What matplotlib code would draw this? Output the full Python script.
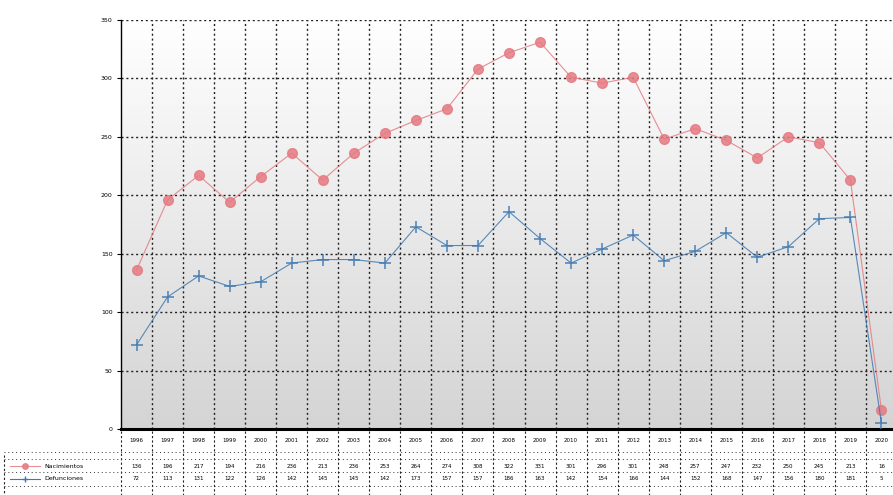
import numpy as np
import matplotlib
matplotlib.use("Agg")
import matplotlib.pyplot as plt
from matplotlib.lines import Line2D
import matplotlib.transforms as mtransforms

# data
years = [str(y) for y in range(1996, 2021)]
nacimientos = [136, 196, 217, 194, 216, 236, 213, 236, 253, 264, 274, 308, 322,
               331, 301, 296, 301, 248, 257, 247, 232, 250, 245, 213, 16]
defunciones = [72, 113, 131, 122, 126, 142, 145, 145, 142, 173, 157, 157, 186,
               163, 142, 154, 166, 144, 152, 168, 147, 156, 180, 181, 5]
yticks = [0, 50, 100, 150, 200, 250, 300, 350]

RED = "#e57a82"
BLUE = "#3f78b0"

W, H = 893, 495
fig = plt.figure(figsize=(W / 100, H / 100), dpi=100)
fig.patch.set_facecolor("white")

left, right, top, bottom = 121, 897, 20, 429
ax = fig.add_axes([left / W, 1 - bottom / H, (right - left) / W, (bottom - top) / H])
x = np.arange(len(years))
ax.set_xlim(-0.5, len(years) - 0.5)
ax.set_ylim(0, 350)

# gradient background
grad = np.linspace(0, 1, 256).reshape(-1, 1)
ax.imshow(grad, extent=[-0.5, len(years) - 0.5, 0, 350], aspect="auto",
          cmap=matplotlib.colors.LinearSegmentedColormap.from_list("g", ["#d4d4d4", "#ffffff"]),
          origin="lower", zorder=0)

# grid
for yv in yticks[1:]:
    ax.axhline(yv, color="#222222", lw=1.0, ls=(0, (1.5, 2)), zorder=1)
for b in np.arange(0.5, len(years) - 0.5, 1):
    ax.axvline(b, color="#222222", lw=1.0, ls=(0, (1.5, 2)), zorder=1)

ax.plot(x, nacimientos, color=RED, lw=0.8, marker="o", ms=7, mfc=RED, mec=RED,
        alpha=0.85, zorder=3)
ax.plot(x, defunciones, color=BLUE, lw=0.8, marker="+", ms=9, mew=1.2, alpha=0.85,
        zorder=3)

ax.set_yticks(yticks)
ax.set_yticklabels([str(v) for v in yticks], fontsize=4.5)
ax.tick_params(axis="y", length=3, width=0.8, pad=3)
ax.set_xticks([])
for s in ["top", "right"]:
    ax.spines[s].set_visible(False)
ax.spines["left"].set_linewidth(1.0)
ax.spines["bottom"].set_linewidth(2.2)

# data table under the chart
tr = mtransforms.blended_transform_factory(ax.transData, fig.transFigure)
ftr = fig.transFigure
fy = lambda py: 1 - py / H

for b in np.arange(-0.5, len(years), 1):
    fig.add_artist(Line2D([b, b], [fy(431), fy(495)], transform=tr, color="#222222",
                          lw=0.8, ls=(0, (2, 2))))
for py in [452, 459, 472, 486]:
    fig.add_artist(Line2D([0.005, right / W], [fy(py), fy(py)], transform=ftr,
                          color="#333333", lw=0.7, ls=(0, (1, 3))))
fig.add_artist(Line2D([0.004, 0.004], [fy(455), fy(495)], transform=ftr,
                      color="#222222", lw=0.8, ls=(0, (2, 2))))

for i, yr in enumerate(years):
    fig.text(i, fy(441), yr, transform=tr, ha="center", va="center", fontsize=4)
    fig.text(i, fy(466), str(nacimientos[i]), transform=tr, ha="center", va="center",
             fontsize=4)
    fig.text(i, fy(479), str(defunciones[i]), transform=tr, ha="center", va="center",
             fontsize=4)

# legend keys in the table
fig.add_artist(Line2D([10 / W, 25 / W, 40 / W], [fy(466)] * 3, transform=ftr, color=RED,
                      lw=0.8, marker="o", ms=4, markevery=[1], alpha=0.85))
fig.add_artist(Line2D([10 / W, 25 / W, 40 / W], [fy(479)] * 3, transform=ftr, color=BLUE,
                      lw=0.8, marker="+", ms=5, markevery=[1]))
fig.text(44 / W, fy(466), "Nacimientos", fontsize=4.5, va="center")
fig.text(44 / W, fy(479), "Defunciones", fontsize=4.5, va="center")

fig.savefig("out.png", dpi=100)
